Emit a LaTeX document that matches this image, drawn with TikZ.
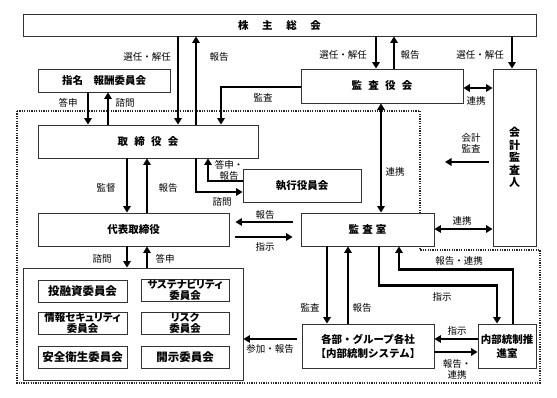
\documentclass[tikz,border=0pt]{standalone}
\usepackage{fontspec}
\setmainfont{Noto Sans CJK JP}
\newfontfamily\palfont{Noto Sans CJK JP}[RawFeature=+palt]
\usetikzlibrary{arrows.meta}

\begin{document}
\begin{tikzpicture}[x=1pt,y=-1pt,
box/.style={draw=black!80,line width=0.9pt,fill=white,inner sep=0pt,align=center,font=\bfseries\fontsize{10.5}{14}\selectfont},
cbox/.style={box,minimum height=22,font=\bfseries\fontsize{11.5}{12}\selectfont},
cbox2/.style={box,minimum height=22,font=\palfont\bfseries\fontsize{10.5}{11.5}\selectfont},
lbl/.style={inner sep=0pt,align=center,font=\fontsize{9.5}{11}\selectfont},
arr/.style={line width=2.2pt,-{Triangle[length=6.5pt,width=7.5pt]}},
darr/.style={line width=2.2pt,{Triangle[length=6.5pt,width=7.5pt]}-{Triangle[length=6.5pt,width=7.5pt]}}]
\useasboundingbox (0,0) rectangle (557,398);
% dotted company area
\draw[line width=1.2pt,black!85,dash pattern=on 1.2pt off 1.2pt](17,111)--(420,111)--(420,250)--(540,250)--(540,383)--(17,383)--cycle;
% boxes
\node[box,minimum width=513,minimum height=22](sh)at(279.5,25){株\hspace{1.3em}主\hspace{1.3em}総\hspace{1.3em}会};
\node[box,minimum width=132,minimum height=23](nom)at(104,80.5){指名\hspace{1em}報酬委員会};
\node[box,minimum width=162,minimum height=34](kansayaku)at(382,86){監\hspace{0.6em}査\hspace{0.6em}役\hspace{0.6em}会};
\node[box,minimum width=43,minimum height=177,font=\bfseries\fontsize{11}{12.5}\selectfont](auditor)at(514.5,157.5){会\\計\\監\\査\\人};
\node[box,minimum width=220,minimum height=33](bod)at(148,141.5){取\hspace{0.6em}締\hspace{0.6em}役\hspace{0.6em}会};
\node[box,minimum width=118,minimum height=33](exec)at(302,185.5){執行役員会};
\node[box,minimum width=191,minimum height=33](ceo)at(133.5,229.5){代表取締役};
\node[box,minimum width=133,minimum height=33](iaud)at(367.5,229.5){監\hspace{0.3em}査\hspace{0.3em}室};
\node[box,minimum width=220,minimum height=112](comm)at(133,324){};
\node[cbox,minimum width=89](c1)at(82.5,291){投融資委員会};
\node[cbox2,minimum width=88](c2)at(185,290){サステナビリティ\\委員会};
\node[cbox2,minimum width=89](c3)at(82.5,323){情報セキュリティ\\委員会};
\node[cbox2,minimum width=88](c4)at(185,323){リスク\\委員会};
\node[cbox,minimum width=89](c5)at(82.5,357){安全衛生委員会};
\node[cbox,minimum width=88](c6)at(185,357){開示委員会};
\node[box,minimum width=132,minimum height=44](dept)at(368,346){各部・グループ各社\\【内部統制システム】};
\node[box,minimum width=58,minimum height=44](icp)at(507,346){内部統制推\\進室};
\coordinate(kaikei)at(445,162);
% arrows
\draw[arr](sh.south-|178,0)--(bod.north-|178,0);
\draw[arr](bod.north-|196,0)--(sh.south-|196,0);
\draw[arr](nom.south-|88,0)--(bod.north-|88,0);
\draw[arr](bod.north-|108,0)--(nom.south-|108,0);
\draw[arr](kansayaku.west|-0,87)-|(bod.north-|221,0);
\draw[arr](sh.south-|376,0)--(kansayaku.north-|376,0);
\draw[arr](kansayaku.north-|394,0)--(sh.south-|394,0);
\draw[arr](sh.south-|512,0)--(auditor.north-|512,0);
\draw[darr](kansayaku.east|-0,88)--(auditor.west|-0,88);
\draw[arr,shorten <=4pt](auditor.west|-kaikei)--(kaikei);
\draw[darr](kansayaku.south-|381,0)--(iaud.north-|381,0);
\draw[arr](bod.south-|196,0)|-(exec.west|-0,192);
\draw[arr](exec.west|-0,181)-|(bod.south-|208,0);
\draw[arr](bod.south-|127,0)--(ceo.north-|127,0);
\draw[arr](ceo.north-|147,0)--(bod.south-|147,0);
\draw[arr,shorten <=8pt,shorten >=6pt](iaud.west|-0,222)--(ceo.east|-0,222);
\draw[arr,shorten <=6pt,shorten >=8pt](ceo.east|-0,237)--(iaud.west|-0,237);
\draw[darr](iaud.east|-0,229)--(auditor.west|-0,229);
\draw[arr](ceo.south-|127,0)--(comm.north-|127,0);
\draw[arr](comm.north-|147,0)--(ceo.south-|147,0);
\draw[arr](iaud.south-|327,0)--(dept.north-|327,0);
\draw[arr](dept.north-|348,0)--(iaud.south-|348,0);
\draw[arr](iaud.south-|379,0)--++(0,39)-|(icp.north-|497,0);
\draw[arr](icp.north-|513,0)--++(0,-54)-|(iaud.south-|399,0);
\draw[arr](icp.west|-0,339)--(dept.east|-0,339);
\draw[arr](dept.east|-0,352)--(icp.west|-0,352);
\draw[arr,shorten <=5pt](dept.west|-0,339)--(comm.east|-0,339);
% labels
\node[lbl](l1)at(147,57){選任・解任};
\node[lbl](l2)at(219,57){報告};
\node[lbl](l3)at(68,103){答申};
\node[lbl](l4)at(125,103){諮問};
\node[lbl](l5)at(263,98){監査};
\node[lbl](l6)at(343,55){選任・解任};
\node[lbl](l7)at(410,55){報告};
\node[lbl](l8)at(480,55){選任・解任};
\node[lbl](l9)at(476,101){連携};
\node[lbl](l10)at(471,143.5){会計\\監査};
\node[lbl](l11)at(395,172){連携};
\node[lbl](l12)at(229,170){答申・\\報告};
\node[lbl](l13)at(222,202){諮問};
\node[lbl](l14)at(106,188){監督};
\node[lbl](l15)at(168,188){報告};
\node[lbl](l16)at(265,215){報告};
\node[lbl](l17)at(265,247){指示};
\node[lbl](l18)at(462,221){連携};
\node[lbl](l19)at(102,259){諮問};
\node[lbl](l20)at(165,259){答申};
\node[lbl](l21)at(459,261){報告・連携};
\node[lbl](l22)at(442,297){指示};
\node[lbl](l23)at(310,308){監査};
\node[lbl](l24)at(362,308){報告};
\node[lbl](l25)at(457,331){指示};
\node[lbl](l26)at(457,369.5){報告・\\連携};
\node[lbl](l27)at(270,349){参加・報告};
\end{tikzpicture}
\end{document}
